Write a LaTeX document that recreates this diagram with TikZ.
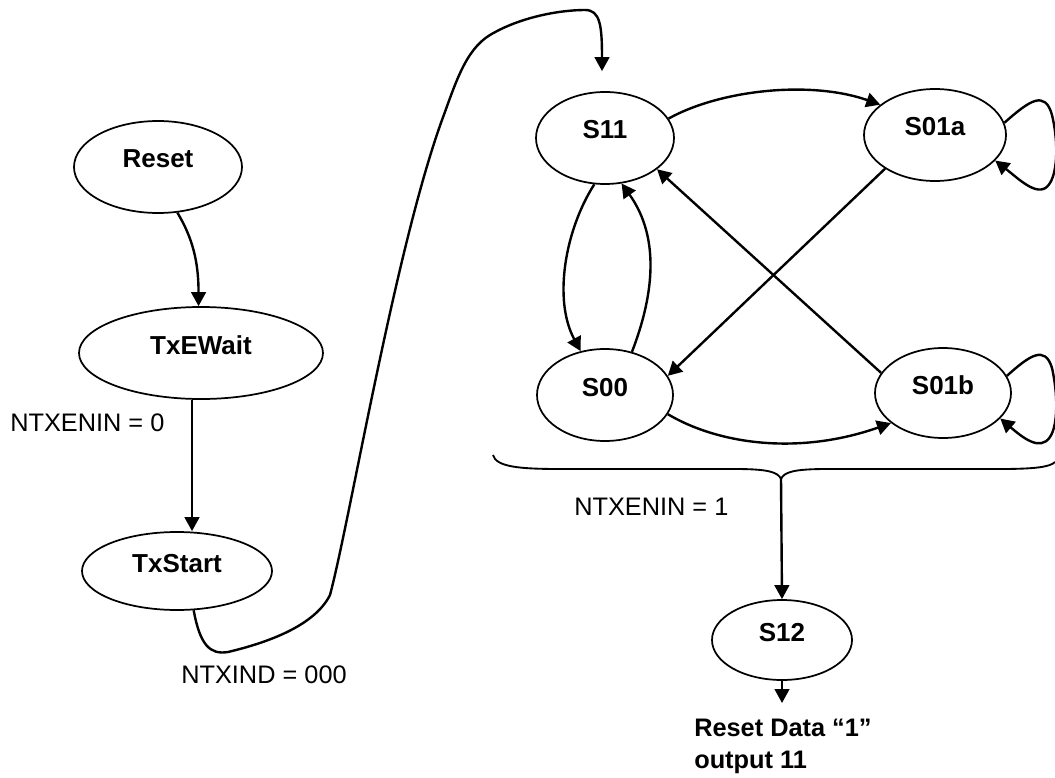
\documentclass[tikz,border=0pt]{standalone}
\usepackage{fontspec}
\setmainfont{Liberation Sans}
\usetikzlibrary{shapes.geometric,arrows.meta,calc}
\begin{document}
\begin{tikzpicture}[x=0.75pt,y=-0.75pt,
  state/.style 2 args={draw,ellipse,line width=1.3pt,minimum width=#1*1.5pt,minimum height=#2*1.5pt,inner sep=0pt,
    font=\fontsize{19.5}{23}\selectfont\bfseries,text height=13.5pt,text depth=12pt},
  arr/.style={line width=1.8pt,-{Triangle[length=10.5pt,width=11pt]}},
  lbl/.style={font=\fontsize{19}{23}\selectfont,anchor=west,inner sep=0pt},
  bracestyle/.style={line width=1.4pt}]
\useasboundingbox (0,0) rectangle (1055,777);

% states
\node[state={84}{46}] (reset) at (158,167) {Reset};
\node[state={122}{46}] (txewait) at (201,353) {TxEWait};
\node[state={95}{39}] (txstart) at (177,571) {TxStart};
\node[state={69}{46}] (s11) at (605,138) {S11};
\node[state={71}{46}] (s01a) at (935,135) {S01a};
\node[state={68}{46}] (s00) at (605,395) {S00};
\node[state={68}{45}] (s01b) at (943,393) {S01b};
\node[state={70}{40}] (s12) at (782,640) {S12};

% labels
\node[lbl] (l0) at (10,423) {NTXENIN = 0};
\node[lbl] (lind) at (181,675) {NTXIND = 000};
\node[lbl] (l1) at (574,507) {NTXENIN = 1};
\node[lbl,font=\fontsize{19}{24}\selectfont\bfseries,align=left] (out) at (694,746) {Reset Data “1”\\output 11};

% coordinates
\coordinate (vx) at (192,0);
\coordinate (cusp) at (781,479);
\coordinate (s11in) at ($(s11.north)+(-3,-20)$);
\coordinate (s12out) at (782,703);

% left column
\draw[arr] (reset.-67) .. controls +(15,25) and +(0,-45) .. (txewait.93);
\draw[arr] (txewait.south -| vx) -- (txstart.north -| vx);
\draw[arr] (txstart.-67) .. controls (200,645) and (210,655) .. (228,652)
  .. controls (270,642) and (315,625) .. (330,595)
  .. controls (350,520) and (395,250) .. (442,120)
  .. controls (455,85) and (465,50) .. (490,35)
  .. controls (520,17) and (560,10) .. (585,10)
  .. controls (600,10) and (602,25) .. (s11in);

% right block
\draw[arr] (s11.17) .. controls (720,90) and (810,80) .. (s01a.151);
\draw[arr] (s01a.10) .. controls (1030,100) and (1045,90) .. (1052,115)
  .. controls (1058,140) and (1058,170) .. (1050,183)
  .. controls (1040,200) and (1020,180) .. (s01a.-23);
\draw[arr] (s01b.15) .. controls (1030,355) and (1045,345) .. (1052,368)
  .. controls (1058,395) and (1058,425) .. (1050,437)
  .. controls (1040,452) and (1022,437) .. (s01b.-24);
\draw[arr] (s11.-103) .. controls (565,230) and (553,300) .. (s00.119);
\draw[arr] (s00.58) .. controls (652,300) and (662,240) .. (s11.-70);
\draw[arr] (s01a.-146) -- (s00.17);
\draw[arr] (s01b.162) -- (s11.-31);
\draw[arr] (s00.-17) .. controls (720,445) and (800,455) .. (s01b.-150);

% brace
\draw[bracestyle] (493,455) .. controls (496,467) and (520,469) .. (560,469) -- (735,469)
  .. controls (768,469) and (778,472) .. (cusp)
  .. controls (784,472) and (794,469) .. (827,469) -- (1000,469)
  .. controls (1035,469) and (1050,467) .. (1055,462);
\draw[arr] (cusp) -- (s12.north);
\draw[arr] (s12.south) -- (s12out);
\end{tikzpicture}
\end{document}
